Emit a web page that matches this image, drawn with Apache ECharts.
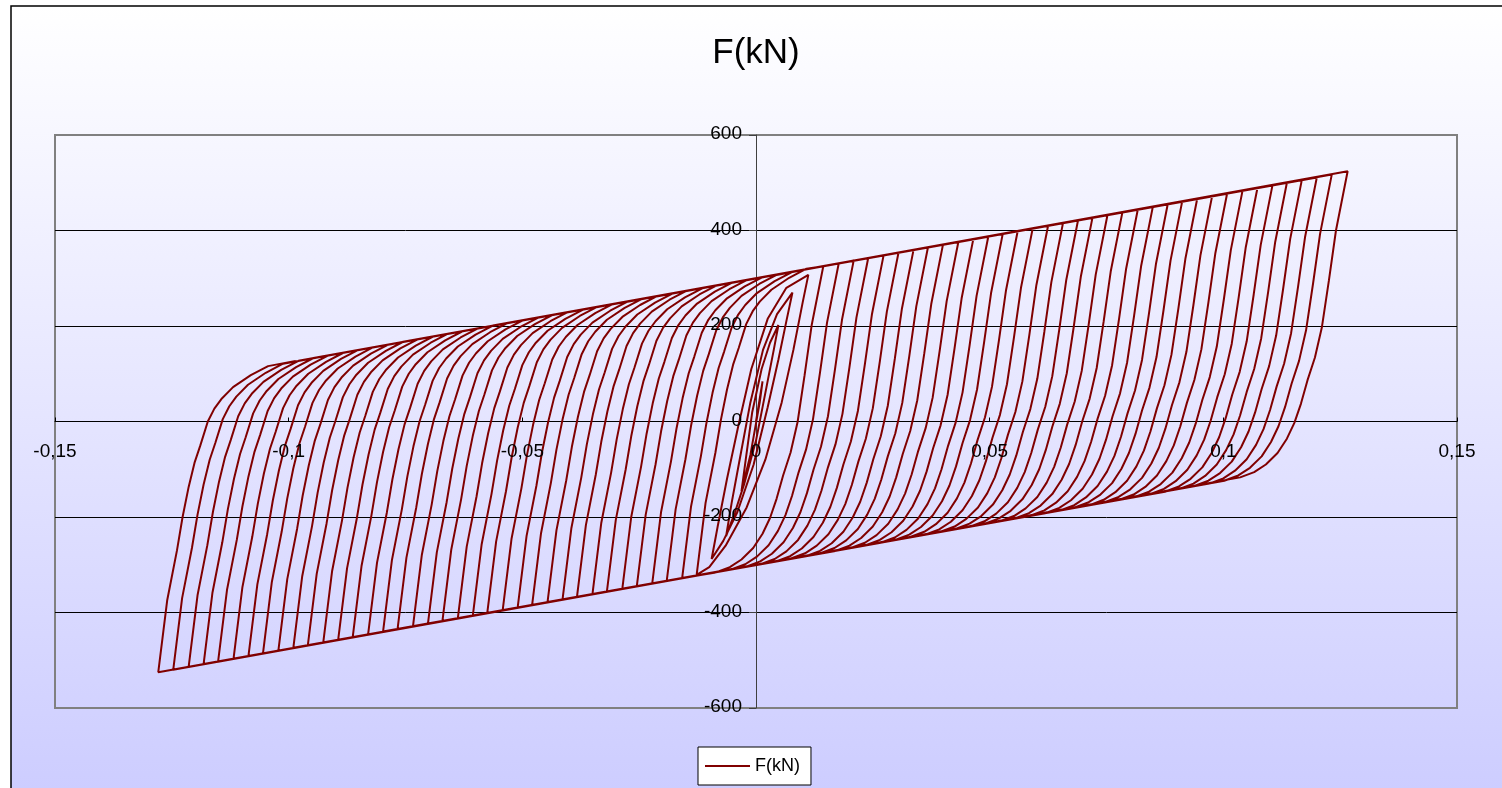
<!DOCTYPE html>
<html><head><meta charset="utf-8">
<script src="https://cdn.jsdelivr.net/npm/echarts/dist/echarts.min.js"></script>
<style>html,body{margin:0;padding:0;background:#fff}#c{width:1502px;height:788px}</style>
</head><body><div id="c"></div>
<script>
// ---- data ----
const chartTitle = 'F(kN)';
const seriesName = 'F(kN)';
const xTicks = [-0.15, -0.1, -0.05, 0, 0.05, 0.1, 0.15];
const yTicks = [-600, -400, -200, 0, 200, 400, 600];
// first small (nearly elastic) loops around the origin
const initDisp  = [0, 0.0014, 0.0008, -0.0012, -0.0031,
  -0.0022, -0.0008, 0.0012, 0.0030, 0.0048,
  0.0038, 0.0022, 0.0000, -0.0025, -0.0045, -0.0064,
  -0.0052, -0.0035, -0.0012, 0.0015, 0.0045, 0.0078,
  0.0066, 0.0048, 0.0025, -0.0005, -0.0040, -0.0070, -0.0095,
  -0.0082, -0.0062, -0.0038, -0.0010, 0.0025, 0.0065, 0.0112,
  0.0100, 0.0080, 0.0055, 0.0020, -0.0020, -0.0065, -0.0100, -0.0127];
const initForce = [0, 84, 40, -70, -146,
  -80, 20, 110, 165, 202,
  150, 70, -40, -130, -190, -240,
  -170, -80, 40, 150, 225, 270,
  215, 130, 30, -90, -190, -250, -288,
  -220, -120, -10, 110, 215, 280, 307,
  250, 150, 40, -80, -180, -260, -305, -321];
// positive peaks of the large cycles
const peakDisp  = [0.0144, 0.0177, 0.0209, 0.0240, 0.0273, 0.0305, 0.0337, 0.0368, 0.0400, 0.0433, 0.0465, 0.0497, 0.0528, 0.0560, 0.0592, 0.0625, 0.0657, 0.0689, 0.0720, 0.0752, 0.0784, 0.0817, 0.0849, 0.0881, 0.0912, 0.0944, 0.0976, 0.1008, 0.1041, 0.1073, 0.1105, 0.1136, 0.1168, 0.1200, 0.1232, 0.1266];
const peakForce = [325, 331, 337, 342, 348, 354, 359, 365, 370, 376, 382, 387, 393, 399, 404, 410, 416, 421, 427, 432, 438, 444, 449, 455, 461, 466, 472, 477, 483, 489, 494, 500, 506, 511, 517, 524];
// negative peaks of the large cycles
const valleyDisp  = [-0.0158, -0.0191, -0.0222, -0.0255, -0.0286, -0.0319, -0.0350, -0.0383, -0.0414, -0.0446, -0.0479, -0.0510, -0.0542, -0.0575, -0.0606, -0.0638, -0.0671, -0.0702, -0.0734, -0.0767, -0.0798, -0.0830, -0.0863, -0.0894, -0.0926, -0.0959, -0.0990, -0.1022, -0.1055, -0.1086, -0.1118, -0.1151, -0.1182, -0.1214, -0.1247, -0.1279];
const valleyForce = [-328, -334, -339, -345, -350, -356, -362, -367, -373, -378, -384, -390, -395, -401, -407, -412, -418, -424, -429, -435, -440, -446, -452, -457, -463, -469, -474, -480, -486, -491, -497, -503, -508, -514, -520, -525];
// unloading branch measured on the outer loop: displacement back from the peak, force drop from the peak
const unloadDisp  = [0.0025, 0.0040, 0.0055, 0.0070, 0.0086, 0.0100, 0.0114, 0.0130, 0.0150, 0.0175, 0.0200, 0.0230];
const unloadForce = [124, 228, 326, 390, 438, 487, 527, 560, 590, 614, 630, 641];
// reloading branch measured on the outer loop: displacement forward from the valley, force rise from the valley
const reloadDisp  = [0.0019, 0.0040, 0.0052, 0.0065, 0.0078, 0.0090, 0.0106, 0.0120, 0.0135, 0.0160, 0.0198, 0.0235];
const reloadForce = [150, 255, 325, 388, 440, 475, 525, 552, 572, 597, 622, 641];
// last recorded point after the final reloading
const endDisp = -0.0985, endForce = 127;

const xTickLabel = v => String(v).replace('.', ',');

function buildPath() {
  const pts = initDisp.map((x, i) => [x, initForce[i]]);
  let vx = initDisp[initDisp.length - 1], vf = initForce[initForce.length - 1];
  const reload = (limit) => {
    for (let i = 0; i < reloadDisp.length; i++) {
      const x = vx + reloadDisp[i];
      if (x < limit) pts.push([x, vf + reloadForce[i]]);
    }
  };
  for (let k = 0; k < peakDisp.length; k++) {
    reload(peakDisp[k]);
    pts.push([peakDisp[k], peakForce[k]]);
    for (let i = 0; i < unloadDisp.length; i++) {
      const x = peakDisp[k] - unloadDisp[i];
      if (x > valleyDisp[k]) pts.push([x, peakForce[k] - unloadForce[i]]);
    }
    pts.push([valleyDisp[k], valleyForce[k]]);
    vx = valleyDisp[k]; vf = valleyForce[k];
  }
  reload(endDisp);
  pts.push([endDisp, endForce]);
  return pts;
}

const FONT = "'Liberation Sans', Arial, sans-serif";
const bgRect = {
  id: 'bg', type: 'rect', z: -10, silent: true,
  shape: {x: 11, y: 6, width: 1510, height: 800},
  style: {
    fill: new echarts.graphic.LinearGradient(0, 0, 0, 1, [
      {offset: 0, color: '#ffffff'}, {offset: 1, color: '#ccccff'}]),
    stroke: '#000', lineWidth: 1.5
  }
};
const chart = echarts.init(document.getElementById('c'), null, {renderer: 'canvas'});
chart.setOption({
  animation: false,
  graphic: {elements: [bgRect]},
  title: {
    text: chartTitle, left: 756, top: 36, textAlign: 'center', padding: 0,
    textStyle: {fontFamily: FONT, fontSize: 35, fontWeight: 'normal', color: '#000'}
  },
  legend: {
    data: [seriesName], left: 698, top: 747,
    icon: 'rect', itemWidth: 45, itemHeight: 2,
    padding: [10, 11, 10, 7],
    backgroundColor: '#fff', borderColor: '#000', borderWidth: 1, borderRadius: 0,
    textStyle: {fontFamily: FONT, fontSize: 18, color: '#000'}
  },
  grid: {left: 55, right: 45, top: 135, bottom: 80, show: true,
         borderColor: '#808080', borderWidth: 2, backgroundColor: 'transparent'},
  xAxis: {
    type: 'value', min: -0.15, max: 0.15, interval: 0.05,
    axisLine: {onZero: true, lineStyle: {color: '#000', width: 1}},
    axisTick: {show: true, inside: true, length: 4, lineStyle: {color: '#000'}},
    axisLabel: {show: false},
    splitLine: {show: false}
  },
  yAxis: {
    type: 'value', min: -600, max: 600, interval: 200,
    axisLine: {show: true, onZero: true, lineStyle: {color: '#404040', width: 1}},
    axisTick: {show: true, inside: false, length: 7, lineStyle: {color: '#404040'}},
    axisLabel: {show: false},
    splitLine: {show: true, showMinLine: false, showMaxLine: false, lineStyle: {color: '#000', width: 1}}
  },
  series: [{
    name: seriesName, type: 'line', data: buildPath(),
    showSymbol: false, symbol: 'none', smooth: false,
    lineStyle: {color: '#800000', width: 2}, itemStyle: {color: '#800000'}
  }]
});

// tick labels placed next to the axes that cross at zero, positioned through the chart's own scales
const labelEls = [bgRect];
xTicks.forEach((v, i) => {
  const p = chart.convertToPixel({gridIndex: 0}, [v, 0]);
  labelEls.push({id: 'xl' + i, type: 'text', x: p[0], y: p[1] + 30, z: 5, silent: true,
    style: {text: xTickLabel(v), font: '19px ' + FONT, fill: '#000', align: 'center', verticalAlign: 'middle'}});
});
yTicks.forEach((v, i) => {
  const p = chart.convertToPixel({gridIndex: 0}, [0, v]);
  labelEls.push({id: 'yl' + i, type: 'text', x: p[0] - 14, y: p[1] - 1, z: 5, silent: true,
    style: {text: String(v), font: '19px ' + FONT, fill: '#000', align: 'right', verticalAlign: 'middle'}});
});
chart.setOption({graphic: {elements: labelEls}});
</script></body></html>
